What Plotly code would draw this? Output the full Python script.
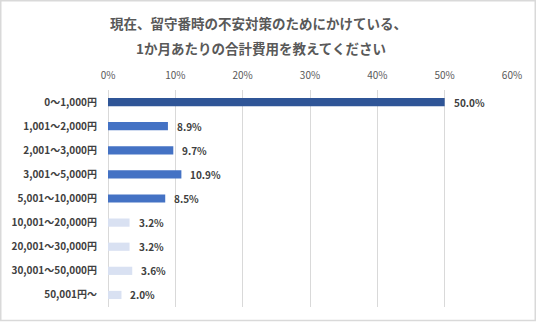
import plotly.graph_objects as go

# Monthly spending brackets (yen) and share of respondents (%)
categories = [
    "0〜1,000円",
    "1,001〜2,000円",
    "2,001〜3,000円",
    "3,001〜5,000円",
    "5,001〜10,000円",
    "10,001〜20,000円",
    "20,001〜30,000円",
    "30,001〜50,000円",
    "50,001円〜",
]
shares = [50.0, 8.9, 9.7, 10.9, 8.5, 3.2, 3.2, 3.6, 2.0]
bar_colors = ["#2F5597", "#4472C4", "#4472C4", "#4472C4", "#4472C4",
              "#D9E1F2", "#D9E1F2", "#D9E1F2", "#D9E1F2"]
tick_values = [0, 10, 20, 30, 40, 50, 60]
tick_labels = ["0%", "10%", "20%", "30%", "40%", "50%", "60%"]
title_lines = ["現在、留守番時の不安対策のためにかけている、",
               "1か月あたりの合計費用を教えてください"]

FONT = "Noto Sans CJK JP"
W, H = 536, 322
ML, MR, MT, MB = 108, 24, 90, 15
pw, ph = W - ML - MR, H - MT - MB


def px_x(x):
    return (x - ML) / pw


def px_y(y):
    return (H - MB - y) / ph


fig = go.Figure()
fig.add_trace(
    go.Bar(
        x=shares,
        y=categories,
        orientation="h",
        marker=dict(color=bar_colors, line=dict(width=0)),
        width=0.34,
        hoverinfo="skip",
    )
)

# value labels placed just past the end of each bar
for cat, val in zip(categories, shares):
    fig.add_annotation(
        x=val, y=cat, xref="x", yref="y",
        text=f"{val:.1f}%", showarrow=False,
        xanchor="left", yanchor="middle", xshift=7,
        font=dict(family=FONT, size=10, color="#404040", weight="bold"),
    )

# two-line title
for (line, cx, cy) in zip(title_lines, [258, 261], [23, 48]):
    fig.add_annotation(
        text=line, xref="paper", yref="paper",
        x=px_x(cx), y=px_y(cy), xanchor="center", yanchor="middle",
        showarrow=False,
        font=dict(family=FONT, size=13.5, color="#595959", weight="bold"),
    )

# outer frame around the whole figure
fig.add_shape(
    type="rect", xref="paper", yref="paper",
    x0=px_x(0.75), x1=px_x(W - 0.75),
    y0=px_y(H - 1.5), y1=px_y(0.75),
    line=dict(color="#D9D9D9", width=1.5), layer="above",
)

fig.update_layout(
    width=W, height=H,
    margin=dict(l=ML, r=MR, t=MT, b=MB),
    paper_bgcolor="white", plot_bgcolor="white",
    showlegend=False,
    font=dict(family=FONT),
    xaxis=dict(
        side="top", range=[0, 60], tickvals=tick_values, ticktext=tick_labels,
        showgrid=True, gridcolor="#D9D9D9", gridwidth=1,
        zeroline=True, zerolinecolor="#D9D9D9", zerolinewidth=1,
        showline=False, ticks="", ticklabelstandoff=8,
        tickfont=dict(family=FONT, size=10, color="#595959"),
        fixedrange=True,
    ),
    yaxis=dict(
        autorange="reversed", showgrid=False, showline=False, ticks="",
        ticklabelstandoff=10,
        tickfont=dict(family=FONT, size=10, color="#404040", weight="bold"),
        fixedrange=True,
    ),
)

fig.write_html("out.html", config={"displayModeBar": False})
